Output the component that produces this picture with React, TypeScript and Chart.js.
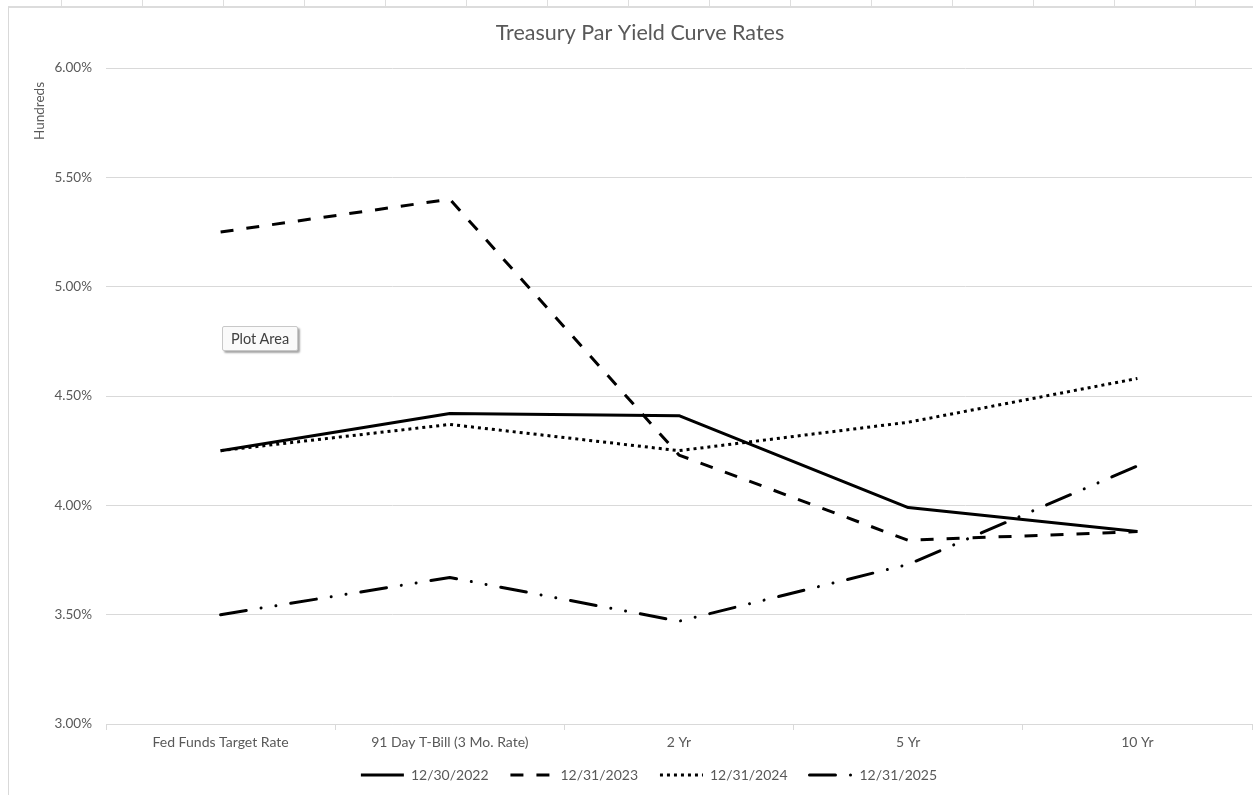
import React, { useEffect, useRef } from 'react';
import { Chart, registerables } from 'chart.js';

Chart.register(...registerables);

const categories = ['Fed Funds Target Rate', '91 Day T-Bill (3 Mo. Rate)', '2 Yr', '5 Yr', '10 Yr'];
const seriesLabels = ['12/30/2022', '12/31/2023', '12/31/2024', '12/31/2025'];
const rates2022 = [4.25, 4.42, 4.41, 3.99, 3.88];
const rates2023 = [5.25, 5.40, 4.23, 3.84, 3.88];
const rates2024 = [4.25, 4.37, 4.25, 4.38, 4.58];
const rates2025 = [3.50, 3.67, 3.47, 3.73, 4.18];
const yMin = 3;
const yMax = 6;
const yStep = 0.5;

const FONT = 'Lato, "Noto Sans", sans-serif';
const TEXT = '#595959';
const GRID = '#d9d9d9';

const yTitlePlugin = {
  id: 'yTitleTop',
  afterLayout(chart: any) {
    const lg = chart.legend;
    if (lg) {
      lg.left += 9;
      lg.right += 9;
    }
  },
  afterDraw(chart: any) {
    const { ctx, chartArea } = chart;
    ctx.save();
    ctx.translate(chartArea.left - 66, chartArea.top + 43);
    ctx.rotate(-Math.PI / 2);
    ctx.font = `13.5px ${FONT}`;
    ctx.fillStyle = TEXT;
    ctx.textAlign = 'center';
    ctx.textBaseline = 'middle';
    ctx.fillText('Hundreds', 0, 0);
    ctx.restore();
  },
};

export default function App() {
  const ref = useRef<HTMLCanvasElement>(null);

  useEffect(() => {
    document.body.style.margin = '0';
    const canvas = ref.current!;
    const chart = new Chart(canvas, {
      type: 'line',
      data: {
        labels: categories,
        datasets: [
          {
            label: seriesLabels[0],
            data: rates2022,
            borderColor: '#000',
            backgroundColor: '#000',
            borderWidth: 3,
            borderDash: [],
            borderCapStyle: 'butt',
            borderJoinStyle: 'round',
          },
          {
            label: seriesLabels[1],
            data: rates2023,
            borderColor: '#000',
            backgroundColor: '#000',
            borderWidth: 3,
            borderDash: [13, 13],
            borderCapStyle: 'butt',
            borderJoinStyle: 'round',
          },
          {
            label: seriesLabels[2],
            data: rates2024,
            borderColor: '#000',
            backgroundColor: '#000',
            borderWidth: 3,
            borderDash: [3, 4],
            borderCapStyle: 'butt',
            borderJoinStyle: 'round',
          },
          {
            label: seriesLabels[3],
            data: rates2025,
            borderColor: '#000',
            backgroundColor: '#000',
            borderWidth: 3,
            borderDash: [26, 15, 0.01, 15, 0.01, 15],
            borderCapStyle: 'round',
            borderJoinStyle: 'round',
          },
        ],
      },
      options: {
        responsive: false,
        maintainAspectRatio: false,
        animation: false,
        devicePixelRatio: 1,
        layout: { padding: { left: 0, right: 0, top: 0, bottom: 3 } },
        elements: {
          point: { radius: 0, hoverRadius: 0 },
          line: { tension: 0 },
        },
        plugins: {
          tooltip: { enabled: false },
          title: {
            display: true,
            text: 'Treasury Par Yield Curve Rates',
            color: TEXT,
            font: { family: FONT, size: 21.5, weight: 'normal', lineHeight: 1.2 },
            padding: { top: 12.1, bottom: 22.1 },
          },
          legend: {
            display: true,
            position: 'bottom',
            labels: {
              color: TEXT,
              font: { family: FONT, size: 14 },
              usePointStyle: true,
              pointStyle: 'line',
              pointStyleWidth: 43,
              boxHeight: 14,
              padding: 4,
              generateLabels(chart: any) {
                const items = Chart.defaults.plugins.legend.labels.generateLabels(chart);
                items.forEach((it: any, i: number) => {
                  const ds: any = chart.data.datasets[i];
                  it.pointStyle = 'line';
                  it.lineWidth = ds.borderWidth;
                  it.strokeStyle = ds.borderColor;
                  it.lineDash = ds.borderDash || [];
                  it.lineCap = ds.borderCapStyle;
                  if (i < items.length - 1) it.text = it.text + '     ';
                });
                return items;
              },
            },
          },
        },
        scales: {
          x: {
            type: 'category',
            offset: true,
            grid: {
              display: true,
              drawOnChartArea: false,
              drawTicks: true,
              tickLength: 6,
              color: GRID,
              offset: true,
            },
            border: { display: true, color: GRID },
            ticks: {
              color: TEXT,
              font: { family: FONT, size: 14 },
              padding: 4,
              maxRotation: 0,
              autoSkip: false,
            },
            afterFit(scale: any) {
              scale.height = 40;
            },
          },
          y: {
            type: 'linear',
            position: 'left',
            min: yMin,
            max: yMax,
            grid: { color: GRID, drawTicks: false, lineWidth: 1 },
            border: { display: false },
            ticks: {
              stepSize: yStep,
              color: TEXT,
              font: { family: FONT, size: 13.5 },
              padding: 14,
              callback: (v: any) => Number(v).toFixed(2) + '%',
            },
            afterFit(scale: any) {
              scale.width = 97;
            },
          },
          yRight: {
            type: 'linear',
            position: 'right',
            display: true,
            grid: { display: false, drawTicks: false },
            border: { display: false },
            ticks: { display: false },
            afterFit(scale: any) {
              scale.width = 19;
            },
          },
        },
      } as any,
      plugins: [yTitlePlugin],
    });
    return () => chart.destroy();
  }, []);

  return (
    <div style={{ position: 'relative', width: 1253, height: 795, overflow: 'hidden', background: '#fff' }}>
      <div
        style={{
          position: 'absolute',
          left: 0,
          top: 0,
          width: 1253,
          height: 6,
          background:
            'repeating-linear-gradient(to right, transparent 0px, transparent 61px, #dedede 61px, #dedede 62px, transparent 62px, transparent 81px)',
        }}
      />
      <div
        style={{
          position: 'absolute',
          left: 8,
          top: 6,
          width: 1253,
          height: 800,
          borderLeft: '1px solid #d9d9d9',
          borderTop: '2px solid #dcdcdc',
          boxSizing: 'border-box',
        }}
      />
      <canvas
        ref={ref}
        width={1262}
        height={787}
        style={{ position: 'absolute', left: 9, top: 8, width: 1262, height: 787 }}
      />
      <div
        style={{
          position: 'absolute',
          left: 222,
          top: 326,
          width: 76,
          height: 25,
          boxSizing: 'border-box',
          background: '#fafafa',
          border: '1px solid #c8c8c8',
          borderRadius: 2,
          boxShadow: '2px 2px 2px rgba(0,0,0,0.35)',
          font: `14.5px ${FONT}`,
          color: '#404040',
          display: 'flex',
          alignItems: 'center',
          justifyContent: 'center',
        }}
      >
        Plot Area
      </div>
    </div>
  );
}
